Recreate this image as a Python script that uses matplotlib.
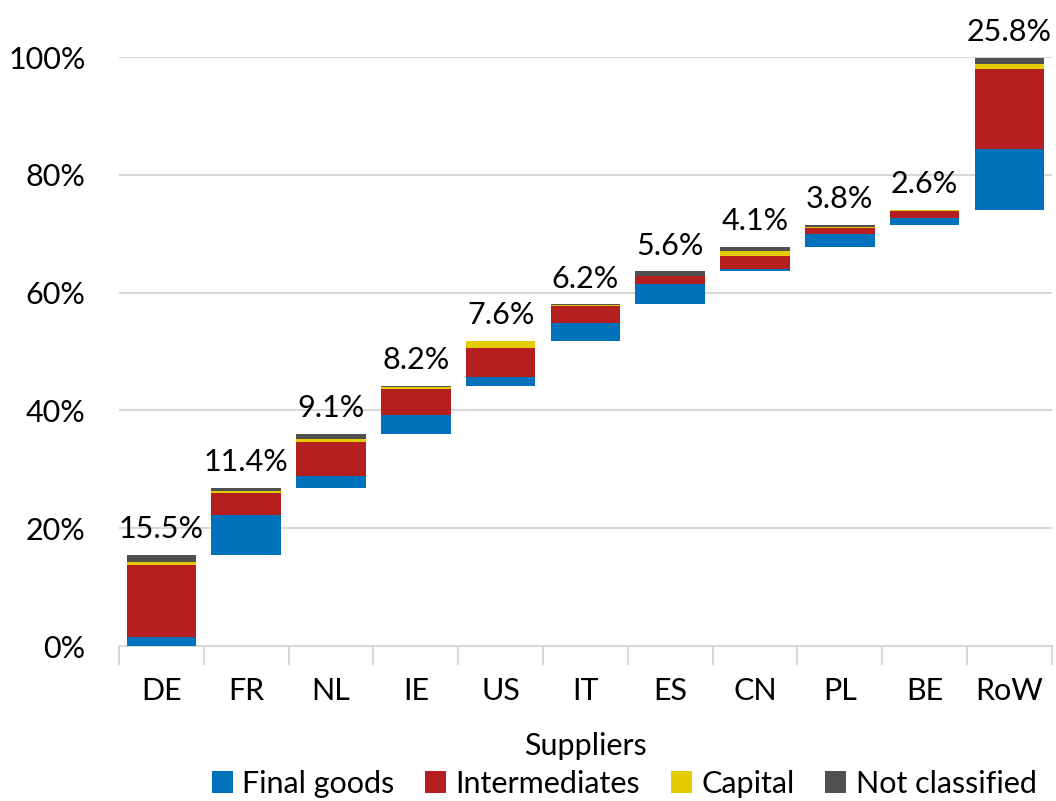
import matplotlib.pyplot as plt
import numpy as np

# Shares of each supplier, split by type of good (percent)
suppliers = ["DE", "FR", "NL", "IE", "US", "IT", "ES", "CN", "PL", "BE", "RoW"]
final_goods = [1.5, 6.8, 2.0, 3.2, 1.5, 3.0, 3.5, 0.4, 2.25, 1.2, 10.3]
intermediates = [12.2, 3.7, 5.7, 4.5, 4.9, 3.0, 1.35, 2.2, 0.95, 1.1, 13.5]
capital = [0.6, 0.3, 0.6, 0.3, 1.2, 0.05, 0.0, 0.9, 0.3, 0.3, 0.9]
not_classified = [1.2, 0.6, 0.8, 0.2, 0.0, 0.15, 0.75, 0.6, 0.3, 0.0, 1.1]
totals = [15.5, 11.4, 9.1, 8.2, 7.6, 6.2, 5.6, 4.1, 3.8, 2.6, 25.8]

plt.rcParams["font.family"] = ["Lato", "DejaVu Sans"]

fig = plt.figure(figsize=(10.56, 8.01), dpi=100)
ax = fig.add_axes([0.1127, 0.1935, 0.8833, 0.7353])

x = np.arange(len(suppliers))
base = np.concatenate([[0], np.cumsum(totals)[:-1]])

series = [
    ("Final goods", final_goods, "#0072BC"),
    ("Intermediates", intermediates, "#B41E1E"),
    ("Capital", capital, "#E3CC00"),
    ("Not classified", not_classified, "#505050"),
]

bottom = base.copy()
for name, vals, col in series:
    vals = np.array(vals)
    ax.bar(x, vals, bottom=bottom, width=0.82, color=col, label=name,
           clip_on=False, zorder=3)
    bottom = bottom + vals

for xi, top, t in zip(x, bottom, totals):
    ax.text(xi, top + 2.0, f"{t}%", ha="center", va="bottom", fontsize=22,
            clip_on=False, zorder=4)

ax.set_xlim(-0.5, len(suppliers) - 0.5)
ax.set_ylim(0, 100)
ax.set_yticks(range(0, 101, 20))
ax.set_yticklabels([f"{v}%" for v in range(0, 101, 20)])
ax.set_xticks(x)
ax.set_xticklabels(suppliers)
ax.set_xticks(np.arange(-0.5, len(suppliers), 1), minor=True)
ax.tick_params(axis="x", which="major", length=0, pad=22, labelsize=22)
ax.tick_params(axis="x", which="minor", length=14, color="#D9D9D9", width=1.5)
ax.tick_params(axis="y", length=0, pad=24, labelsize=22)

ax.grid(axis="y", color="#D9D9D9", linewidth=1.5, zorder=0)
for s in ["top", "right", "left"]:
    ax.spines[s].set_visible(False)
ax.spines["bottom"].set_color("#D9D9D9")
ax.spines["bottom"].set_linewidth(1.5)

ax.set_xlabel("Suppliers", fontsize=22, labelpad=20)

fig.legend(loc="lower center", bbox_to_anchor=(0.591, -0.03), ncol=4, frameon=False,
           fontsize=22, handlelength=0.7, handleheight=0.7, handletextpad=0.3,
           columnspacing=1.0)

fig.savefig("out.png", dpi=100)
plt.close()
